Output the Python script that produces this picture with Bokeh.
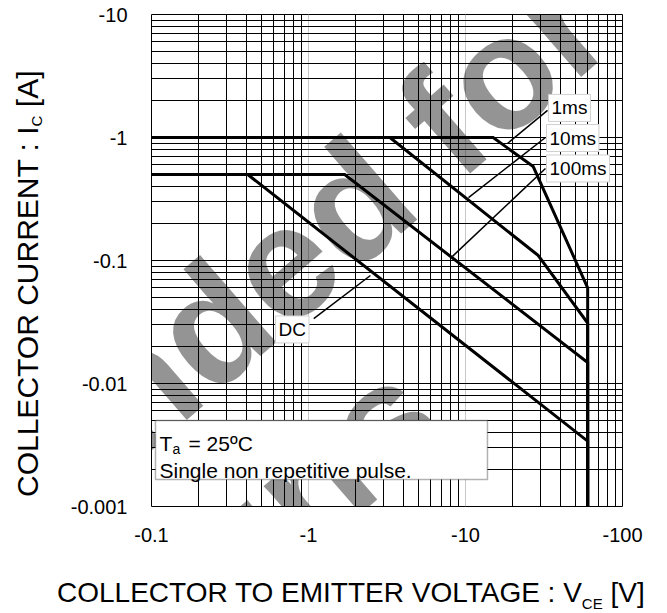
from bokeh.plotting import figure
from bokeh.models import FixedTicker, Label, BoxAnnotation, Range1d, Div
from bokeh.layouts import row, column
from bokeh.embed import file_html
from bokeh.resources import INLINE

# ---- axis ticks / labels ----
X_TICKS = [0.1, 1, 10, 100]
X_TICK_LABELS = ["-0.1", "-1", "-10", "-100"]
Y_TICKS = [0.001, 0.01, 0.1, 1, 10]
Y_TICK_LABELS = ["-0.001", "-0.01", "-0.1", "-1", "-10"]
MINOR_MULTIPLIERS = [2, 3, 4, 5, 6, 7, 8, 9]

# ---- safe operating area curves (|VCE| in V, |IC| in A) ----
SERIES_NAMES = ["1ms", "10ms", "100ms", "DC"]
V_1MS = [0.1, 15, 27, 60, 60]
I_1MS = [1.0, 1.0, 0.58, 0.06, 0.001]
V_10MS = [0.1, 3.3, 29, 60, 60]
I_10MS = [1.0, 1.0, 0.11, 0.031, 0.001]
V_100MS = [0.1, 1.7, 60, 60]
I_100MS = [0.5, 0.5, 0.0148, 0.001]
V_DC = [0.1, 0.41, 60, 60]
I_DC = [0.5, 0.5, 0.0034, 0.001]

# leader lines from the series labels to the curves (start, end)
LEADER_V0 = [33.3, 32.3, 32.3, 1.08]
LEADER_I0 = [1.66, 1.0, 0.56, 0.0337]
LEADER_V1 = [18.5, 10.45, 8.26, 2.48]
LEADER_I1 = [0.894, 0.325, 0.108, 0.0755]

# label anchor positions
LABEL_V = [33.8, 32.8, 32.8, 0.617]
LABEL_I = [1.74, 0.99, 0.56, 0.0275]

X_TITLE = "COLLECTOR TO EMITTER VOLTAGE : V"
X_TITLE_SUB = "CE"
X_TITLE_UNIT = "[V]"
Y_TITLE = "COLLECTOR CURRENT : I"
Y_TITLE_SUB = "C"
Y_TITLE_UNIT = "[A]"

FONT = "Liberation Sans"

p = figure(
    x_axis_type="log", y_axis_type="log",
    x_range=Range1d(0.1, 100), y_range=Range1d(0.001, 10),
    frame_width=471, frame_height=492,
    min_border_left=101, min_border_right=44,
    min_border_top=14, min_border_bottom=42,
    output_backend="svg", toolbar_location=None,
    background_fill_color="white", border_fill_color="white",
    outline_line_color="black", outline_line_width=1,
)

minor_x = [m * 10.0 ** e for e in (-1, 0, 1) for m in MINOR_MULTIPLIERS]
minor_y = [m * 10.0 ** e for e in (-3, -2, -1, 0) for m in MINOR_MULTIPLIERS]
p.xaxis.ticker = FixedTicker(ticks=X_TICKS, minor_ticks=minor_x)
p.yaxis.ticker = FixedTicker(ticks=Y_TICKS, minor_ticks=minor_y)
p.xaxis.major_label_overrides = dict(zip(X_TICKS, X_TICK_LABELS))
p.yaxis.major_label_overrides = dict(zip(Y_TICKS, Y_TICK_LABELS))

for ax in (p.xaxis, p.yaxis):
    ax.axis_line_color = None
    ax.major_tick_line_color = None
    ax.minor_tick_line_color = None
    ax.major_tick_out = 0
    ax.major_tick_in = 0
    ax.major_label_text_font = FONT
    ax.major_label_text_font_size = "20px"
    ax.major_label_text_color = "black"
p.xaxis.major_label_standoff = 17
p.yaxis.major_label_standoff = 20

p.xgrid.grid_line_color = "#c8c8c8"
p.xgrid.minor_grid_line_color = "black"
p.ygrid.grid_line_color = "black"
p.ygrid.minor_grid_line_color = "black"
for g in (p.xgrid, p.ygrid):
    g.grid_line_width = 1
    g.minor_grid_line_width = 1
    g.grid_line_alpha = 1
    g.minor_grid_line_alpha = 1

# ---- curves ----
for vs, cs in ((V_DC, I_DC), (V_100MS, I_100MS), (V_10MS, I_10MS), (V_1MS, I_1MS)):
    p.line(vs, cs, line_color="black", line_width=3, line_join="miter")

p.segment(LEADER_V0, LEADER_I0, LEADER_V1, LEADER_I1, line_color="black", line_width=1.5)

# ---- watermark (semi-transparent, beneath the label boxes) ----
WM = dict(x_units="screen", y_units="screen", angle=41, angle_units="deg",
          text_align="right", text_baseline="alphabetic", text_font=FONT,
          text_font_style="bold", text_font_size="160px", text_color="black",
          text_alpha=0.42)
p.add_layout(Label(x=432, y=505, text="Not Recommended for", **WM))
p.add_layout(Label(x=264, y=114, text="New Designs", **WM))

for name, lv, li in zip(SERIES_NAMES, LABEL_V, LABEL_I):
    p.add_layout(Label(x=lv, y=li, text=name, text_align="left", text_baseline="middle",
                       text_font=FONT, text_font_size="19px", text_color="black",
                       background_fill_color="white", border_line_color="#d0d0d0",
                       border_line_width=1, padding=3))

# ---- condition box ----
p.add_layout(BoxAnnotation(left=0.106, right=13.8, bottom=0.00166, top=0.005,
                           fill_color="white", fill_alpha=1, line_color="black",
                           line_width=1.5))
BT = dict(x_units="screen", y_units="screen", text_align="left",
          text_baseline="alphabetic", text_font=FONT, text_color="black")
p.add_layout(Label(x=8, y=63, text="T", text_font_size="21px", **BT))
p.add_layout(Label(x=21, y=58, text="a", text_font_size="14px", **BT))
p.add_layout(Label(x=37, y=63, text="= 25ºC", text_font_size="21px", **BT))
p.add_layout(Label(x=8, y=36, text="Single non repetitive pulse.", text_font_size="21px", **BT))

# ---- axis titles (HTML, with real subscripts) ----
ydiv = Div(
    text=(
        '<div style="position:relative;width:50px;height:612px;">'
        '<div style="position:absolute;left:13px;top:497px;transform-origin:0 0;'
        'transform:rotate(-90deg);font-family:\'Liberation Sans\';font-size:30px;'
        'line-height:1;white-space:nowrap;color:black;">'
        f'{Y_TITLE}<span style="font-size:15px;vertical-align:-4px;">{Y_TITLE_SUB}</span> {Y_TITLE_UNIT}'
        '</div></div>'
    ),
    width=50, height=612, margin=0,
)
xdiv = Div(
    text=(
        '<div style="margin-left:7px;margin-top:31px;font-family:\'Liberation Sans\';'
        'font-size:28px;line-height:1;white-space:nowrap;color:black;">'
        f'{X_TITLE}<span style="font-size:15px;vertical-align:-7px;">{X_TITLE_SUB}</span> {X_TITLE_UNIT}'
        '</div>'
    ),
    width=616, height=64, margin=0,
)

layout = row(ydiv, column(p, xdiv, spacing=0), spacing=0)

open("out.html", "w").write(file_html(layout, INLINE))
